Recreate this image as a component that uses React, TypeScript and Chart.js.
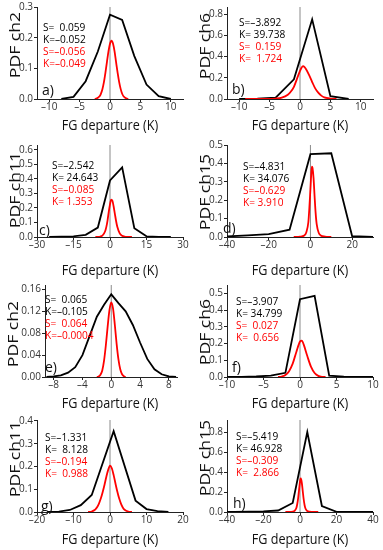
import React, { useEffect, useRef } from "react";
import { Chart, registerables } from "chart.js";

Chart.register(...registerables);

type Pt = [number, number];

// ---------- a) ch2 (top-left) ----------
const blackA: Pt[] = [[-8, 0], [-6, 0.007], [-4, 0.058], [-2, 0.155], [0, 0.275], [2, 0.258], [4, 0.14], [6, 0.047], [8, 0.009], [10, 0]];
const redA: Pt[] = [[-2.5, 0], [-2.25, 0.001], [-2, 0.004], [-1.75, 0.008], [-1.5, 0.017], [-1.25, 0.032], [-1, 0.055], [-0.75, 0.086], [-0.5, 0.121], [-0.25, 0.155], [0, 0.18], [0.25, 0.19], [0.5, 0.18], [0.75, 0.155], [1, 0.12], [1.25, 0.086], [1.5, 0.056], [1.75, 0.033], [2, 0.017], [2.25, 0.008], [2.5, 0.004], [2.75, 0.001], [3, 0]];
const xTicksA = ["–10", "–5", "0", "5", "10"];
const yTicksA = ["0.0", "0.1", "0.2", "0.3"];
const statsA = ["S=  0.059", "K=–0.052", "S=–0.056", "K=–0.049"];

// ---------- b) ch6 ----------
const blackB: Pt[] = [[-10, 0], [-7, 0.004], [-4, 0.013], [-1, 0.185], [2, 0.75], [5, 0.027], [8, 0]];
const redB: Pt[] = [[-9, 0], [-6, 0.001], [-4, 0.004], [-3, 0.012], [-2, 0.04], [-1.5, 0.07], [-1, 0.115], [-0.5, 0.19], [0, 0.265], [0.25, 0.295], [0.5, 0.31], [0.75, 0.3], [1, 0.28], [1.5, 0.225], [2, 0.16], [2.5, 0.1], [3, 0.06], [3.5, 0.032], [4, 0.016], [5, 0.004], [6, 0]];
const xTicksB = ["–10", "–5", "0", "5", "10"];
const yTicksB = ["0.0", "0.2", "0.4", "0.6", "0.8"];
const statsB = ["S=–3.892", "K= 39.738", "S=  0.159", "K=  1.724"];

// ---------- c) ch11 ----------
const blackC: Pt[] = [[-25, 0], [-20, 0.002], [-15, 0.005], [-10, 0.015], [-5, 0.065], [0, 0.39], [5, 0.48], [10, 0.06], [15, 0.005], [20, 0.001], [25, 0]];
const redC: Pt[] = [[-6, 0], [-5, 0.001], [-4, 0.003], [-3, 0.012], [-2, 0.04], [-1.5, 0.07], [-1, 0.115], [-0.5, 0.175], [0, 0.225], [0.5, 0.258], [1, 0.25], [1.5, 0.21], [2, 0.16], [2.5, 0.11], [3, 0.07], [4, 0.025], [5, 0.008], [6, 0.003], [7, 0.001], [9, 0]];
const xTicksC = ["–30", "–15", "0", "15", "30"];
const yTicksC = ["0.0", "0.1", "0.2", "0.3", "0.4", "0.5", "0.6"];
const statsC = ["S=–2.542", "K= 24.643", "S=–0.085", "K= 1.353"];

// ---------- d) ch15 ----------
const blackD: Pt[] = [[-40, 0.003], [-30, 0.009], [-20, 0.016], [-10, 0.04], [0, 0.45], [10, 0.455], [20, 0.004], [30, 0]];
const redD: Pt[] = [[-8, 0], [-5, 0.002], [-3, 0.008], [-2, 0.025], [-1, 0.08], [-0.5, 0.16], [0, 0.26], [0.5, 0.36], [0.75, 0.383], [1, 0.375], [1.5, 0.32], [2, 0.22], [2.5, 0.13], [3, 0.07], [4, 0.022], [5, 0.008], [7, 0.002], [10, 0]];
const xTicksD = ["–40", "–20", "0", "20"];
const yTicksD = ["0.0", "0.1", "0.2", "0.3", "0.4", "0.5"];
const statsD = ["S=–4.831", "K= 34.076", "S=–0.629", "K= 3.910"];

// ---------- e) ch2 ----------
const blackE: Pt[] = [[-9, 0], [-8, 0.001], [-7, 0.003], [-6, 0.008], [-5, 0.018], [-4, 0.04], [-3, 0.075], [-2, 0.11], [-1, 0.132], [0, 0.151], [1, 0.135], [2, 0.12], [3, 0.095], [4, 0.063], [5, 0.033], [6, 0.014], [7, 0.005], [8, 0.001], [9, 0]];
const redE: Pt[] = [[-2, 0], [-1.75, 0.001], [-1.5, 0.004], [-1.25, 0.012], [-1, 0.03], [-0.75, 0.058], [-0.5, 0.092], [-0.25, 0.122], [0, 0.136], [0.25, 0.125], [0.5, 0.095], [0.75, 0.06], [1, 0.032], [1.25, 0.014], [1.5, 0.005], [1.75, 0.0015], [2, 0]];
const xTicksE = ["–8", "–4", "0", "4", "8"];
const yTicksE = ["0.00", "0.04", "0.08", "0.12", "0.16"];
const statsE = ["S=  0.065", "K=–0.105", "S=  0.064", "K=–0.0004"];

// ---------- f) ch6 ----------
const blackF: Pt[] = [[-10, 0], [-8, 0.001], [-6, 0.003], [-4, 0.008], [-2, 0.025], [0, 0.465], [2, 0.485], [4, 0.008], [6, 0.002], [8, 0], [10, 0]];
const redF: Pt[] = [[-3, 0], [-2.5, 0.003], [-2, 0.012], [-1.5, 0.035], [-1, 0.08], [-0.5, 0.15], [0, 0.212], [0.25, 0.218], [0.5, 0.195], [1, 0.125], [1.5, 0.062], [2, 0.024], [2.5, 0.007], [3, 0.001], [3.5, 0]];
const xTicksF = ["–10", "–5", "0", "5", "10"];
const yTicksF = ["0.0", "0.1", "0.2", "0.3", "0.4", "0.5"];
const statsF = ["S=–3.907", "K= 34.799", "S=  0.027", "K=  0.656"];

// ---------- g) ch11 ----------
const blackG: Pt[] = [[-17, 0], [-14, 0.002], [-11, 0.009], [-8, 0.03], [-5, 0.075], [1, 0.355], [7, 0.05], [10, 0.013], [13, 0.004], [16, 0]];
const redG: Pt[] = [[-6, 0], [-5, 0.002], [-4.5, 0.006], [-4, 0.012], [-3.5, 0.022], [-3, 0.038], [-2.5, 0.06], [-2, 0.088], [-1.5, 0.12], [-1, 0.155], [-0.5, 0.185], [0, 0.204], [0.5, 0.192], [1, 0.162], [1.5, 0.125], [2, 0.09], [2.5, 0.06], [3, 0.037], [3.5, 0.02], [4, 0.01], [5, 0.002], [6, 0]];
const xTicksG = ["–20", "–10", "0", "10", "20"];
const yTicksG = ["0.0", "0.1", "0.2", "0.3", "0.4"];
const statsG = ["S=–1.331", "K=  8.128", "S=–0.194", "K=  0.988"];

// ---------- h) ch15 ----------
const blackH: Pt[] = [[-40, 0], [-36, 0.001], [-28, 0.003], [-20, 0.006], [-12, 0.015], [-4, 0.09], [4, 0.8], [12, 0.06], [20, 0.002], [28, 0], [40, 0]];
const redH: Pt[] = [[-8, 0], [-5, 0.001], [-4, 0.003], [-3, 0.012], [-2, 0.04], [-1.5, 0.08], [-1, 0.14], [-0.5, 0.225], [0, 0.305], [0.25, 0.33], [0.5, 0.335], [1, 0.29], [1.5, 0.21], [2, 0.13], [2.5, 0.07], [3, 0.035], [4, 0.01], [5, 0.003], [7, 0.001], [10, 0]];
const xTicksH = ["–40", "–20", "0", "20", "40"];
const yTicksH = ["0.0", "0.2", "0.4", "0.6", "0.8"];
const statsH = ["S=–5.419", "K= 46.928", "S=–0.309", "K=  2.866"];

const xTitle = "FG departure (K)";
const yTitles = ["PDF ch2", "PDF ch6", "PDF ch11", "PDF ch15", "PDF ch2", "PDF ch6", "PDF ch11", "PDF ch15"];
const letters = ["a)", "b)", "c)", "d)", "e)", "f)", "g)", "h)"];

const FONT = '"Open Sans", "Noto Sans", sans-serif';

// layout (page pixel coordinates)
const ROW_TOP = [0, 135, 270, 405];
const CANVAS_H = 145;
const PLOT_TOP = [7, 145, 285, 420];
const PLOT_BOTTOM = [99, 237, 377, 512];
const X_TITLE_Y = [126, 271, 404, 540];

type PanelDef = {
  black: Pt[];
  red: Pt[];
  xTicks: string[];
  yTicks: string[];
  stats: string[];
  xMin: number;
  xMax: number;
  yMax: number;
  col: number;
  row: number;
  statsPos: [number, number];
  letterPos: [number, number];
  yTitleY: number;
  plotL?: number;
  plotR?: number;
  yTitleX?: number;
};

const panels: PanelDef[] = [
  { black: blackA, red: redA, xTicks: xTicksA, yTicks: yTicksA, stats: statsA, xMin: -12, xMax: 12, yMax: 0.3, col: 0, row: 0, statsPos: [43, 28], letterPos: [42, 91], yTitleY: 45 },
  { black: blackB, red: redB, xTicks: xTicksB, yTicks: yTicksB, stats: statsB, xMin: -12, xMax: 12, yMax: 0.866, col: 1, row: 0, statsPos: [239, 23], letterPos: [232, 90], yTitleY: 46 },
  { black: blackC, red: redC, xTicks: xTicksC, yTicks: yTicksC, stats: statsC, xMin: -30, xMax: 30, yMax: 0.634, col: 0, row: 1, statsPos: [52, 166], letterPos: [39, 231], yTitleY: 190 },
  { black: blackD, red: redD, xTicks: xTicksD, yTicks: yTicksD, stats: statsD, xMin: -40, xMax: 30, yMax: 0.5, col: 1, row: 1, statsPos: [243, 167], letterPos: [223, 229], yTitleY: 192 },
  { black: blackE, red: redE, xTicks: xTicksE, yTicks: yTicksE, stats: statsE, xMin: -9.2, xMax: 9.2, yMax: 0.168, col: 0, row: 2, statsPos: [45, 300], letterPos: [45, 368], yTitleY: 334, plotL: 45, plotR: 177.5, yTitleX: 18 },
  { black: blackF, red: redF, xTicks: xTicksF, yTicks: yTicksF, stats: statsF, xMin: -10, xMax: 10, yMax: 0.55, col: 1, row: 2, statsPos: [236, 302], letterPos: [232, 368], yTitleY: 332 },
  { black: blackG, red: redG, xTicks: xTicksG, yTicks: yTicksG, stats: statsG, xMin: -20, xMax: 20, yMax: 0.404, col: 0, row: 3, statsPos: [45, 438], letterPos: [41, 507], yTitleY: 459 },
  { black: blackH, red: redH, xTicks: xTicksH, yTicks: yTicksH, stats: statsH, xMin: -40, xMax: 40, yMax: 0.92, col: 1, row: 3, statsPos: [236, 437], letterPos: [233, 504], yTitleY: 458 },
];

const toNum = (s: string) => parseFloat(s.replace("–", "-"));

function Panel({ def, idx }: { def: PanelDef; idx: number }) {
  const ref = useRef<HTMLCanvasElement | null>(null);
  const left = def.col * 190;
  const width = def.col === 0 ? 190 : 193;
  const top = ROW_TOP[def.row];
  const height = CANVAS_H;
  const plotLeft = def.plotL ?? 37;
  const plotRight = def.plotR ?? 183;
  const padTop = PLOT_TOP[def.row] - top;
  const xAxisH = height - (PLOT_BOTTOM[def.row] - top);

  useEffect(() => {
    if (!ref.current) return;
    const xVals = def.xTicks.map(toNum);
    const yVals = def.yTicks.map(toNum);
    const textPlugin = {
      id: "panelText" + idx,
      afterDraw(chart: any) {
        const ctx = chart.ctx as CanvasRenderingContext2D;
        ctx.save();
        ctx.textBaseline = "middle";
        ctx.textAlign = "left";
        ctx.font = `11px ${FONT}`;
        def.stats.forEach((s, i) => {
          ctx.save();
          ctx.translate(def.statsPos[0] - left, def.statsPos[1] - top + i * 12);
          ctx.scale(0.92, 1);
          ctx.fillStyle = i < 2 ? "#000000" : "#ff0000";
          ctx.fillText(s, 0, 0);
          ctx.restore();
        });
        ctx.fillStyle = "#111111";
        ctx.font = `14px ${FONT}`;
        ctx.fillText(letters[idx], def.letterPos[0] - left, def.letterPos[1] - top);
        ctx.save();
        ctx.textAlign = "center";
        ctx.font = `14px ${FONT}`;
        ctx.translate(110, X_TITLE_Y[def.row] - top);
        ctx.scale(0.9, 1);
        ctx.fillText(xTitle, 0, 0);
        ctx.restore();
        ctx.save();
        ctx.textAlign = "center";
        ctx.textBaseline = "alphabetic";
        ctx.font = `16px ${FONT}`;
        ctx.translate(def.yTitleX ?? 19.5, def.yTitleY - top);
        ctx.rotate(-Math.PI / 2);
        ctx.scale(1.1, 0.88);
        ctx.fillText(yTitles[idx], 0, 0);
        ctx.restore();
        ctx.restore();
      },
    };
    const chart = new Chart(ref.current, {
      type: "line",
      data: {
        datasets: [
          {
            data: [{ x: 0, y: 0 }, { x: 0, y: def.yMax }],
            borderColor: "#8a8a8a",
            borderWidth: 1,
            pointRadius: 0,
            order: 3,
          },
          {
            data: def.black.map(([x, y]) => ({ x, y })),
            borderColor: "#000000",
            borderWidth: 1.8,
            pointRadius: 0,
            tension: 0,
            order: 2,
          },
          {
            data: def.red.map(([x, y]) => ({ x, y })),
            borderColor: "#ff0000",
            borderWidth: 1.8,
            pointRadius: 0,
            cubicInterpolationMode: "monotone",
            order: 1,
          },
        ],
      },
      options: {
        animation: false,
        responsive: false,
        devicePixelRatio: 1,
        events: [],
        layout: { padding: { left: 0, top: padTop, right: width - plotRight, bottom: 0 } },
        plugins: { legend: { display: false }, tooltip: { enabled: false }, title: { display: false } },
        scales: {
          x: {
            type: "linear",
            min: def.xMin,
            max: def.xMax,
            afterBuildTicks: (s: any) => {
              s.ticks = xVals.map((v) => ({ value: v }));
            },
            afterFit: (s: any) => {
              s.height = xAxisH;
            },
            ticks: {
              callback: (_v: any, i: number) => def.xTicks[i],
              font: { family: FONT, size: 10, lineHeight: 1 },
              color: "#333333",
              padding: 0,
              maxRotation: 0,
              autoSkip: false,
            },
            grid: { drawOnChartArea: false, tickLength: 3, color: "#222222" },
            border: { color: "#222222", width: 1 },
          },
          y: {
            type: "linear",
            min: 0,
            max: def.yMax,
            afterBuildTicks: (s: any) => {
              s.ticks = yVals.map((v) => ({ value: v }));
            },
            afterFit: (s: any) => {
              s.width = plotLeft;
            },
            ticks: {
              callback: (_v: any, i: number) => def.yTicks[i],
              font: { family: FONT, size: 10, lineHeight: 1 },
              color: "#333333",
              padding: 1,
              autoSkip: false,
            },
            grid: { drawOnChartArea: false, tickLength: 3, color: "#222222" },
            border: { color: "#222222", width: 1 },
          },
        },
      },
      plugins: [textPlugin],
    } as any);
    return () => chart.destroy();
  }, []);

  return (
    <canvas
      ref={ref}
      width={width}
      height={height}
      style={{ position: "absolute", left, top, width, height }}
    />
  );
}

export default function App() {
  return (
    <div style={{ position: "absolute", left: 0, top: 0, width: 383, height: 550, background: "#ffffff", overflow: "hidden" }}>
      {panels.map((p, i) => (
        <Panel key={i} def={p} idx={i} />
      ))}
    </div>
  );
}
